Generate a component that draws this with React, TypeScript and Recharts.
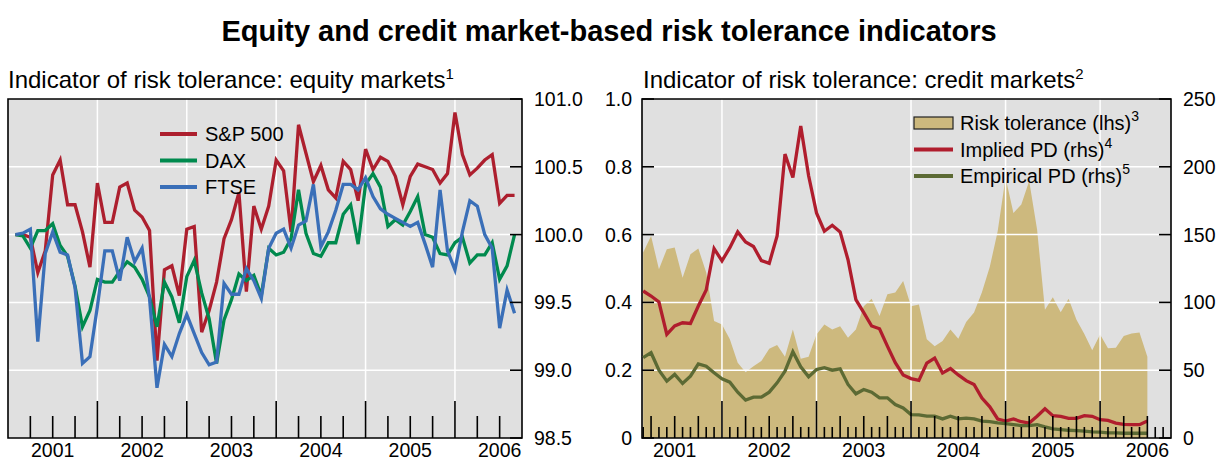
import React from 'react';
import {
  ComposedChart,
  Line,
  Area,
  XAxis,
  YAxis,
  CartesianGrid,
  ReferenceArea,
  Legend,
} from 'recharts';

const FONT = '"Liberation Sans", Arial, Helvetica, sans-serif';

// ---------- DATA ----------
// x = months since 1 Jan 2001 (month-end observations)
const equityMonths = Array.from({ length: 68 }, (_, i) => i + 1);
const sp500 = [
  100.0, 100.0, 99.98, 99.72, 99.88, 100.44, 100.55, 100.22, 100.22, 100.02,
  99.76, 100.38, 100.09, 100.09, 100.35, 100.38, 100.18, 100.13, 100.03, 99.07,
  99.74, 99.77, 99.55, 100.04, 100.06, 99.28, 99.44, 99.65, 99.97, 100.11,
  100.31, 99.58, 100.21, 100.04, 100.21, 100.55, 100.47, 100.02, 100.81, 100.6,
  100.39, 100.51, 100.33, 100.27, 100.54, 100.48, 100.25, 100.63, 100.48, 100.57,
  100.54, 100.43, 100.22, 100.43, 100.52, 100.5, 100.48, 100.38, 100.45, 100.9,
  100.59, 100.44, 100.49, 100.55, 100.59, 100.23, 100.29, 100.29,
];
const dax = [
  100.0, 99.99, 99.9, 100.03, 100.03, 100.08, 99.92, 99.84, 99.62, 99.32,
  99.44, 99.67, 99.65, 99.65, 99.73, 99.8, 99.76, 99.67, 99.54, 99.32,
  99.65, 99.54, 99.35, 99.69, 99.81, 99.57, 99.38, 99.05, 99.37, 99.52,
  99.71, 99.66, 99.7, 99.55, 99.9, 99.85, 99.87, 99.97, 100.33, 100.01,
  99.86, 99.84, 99.94, 99.94, 100.15, 100.22, 99.93, 100.37, 100.45, 100.35,
  100.06, 100.11, 100.07, 100.17, 100.28, 100.0, 99.98, 99.86, 99.85, 99.94,
  99.98, 99.79, 99.85, 99.85, 99.94, 99.67, 99.77, 100.0,
];
const ftse = [
  100.0, 100.01, 100.04, 99.21, 99.86, 100.02, 99.87, 99.85, 99.61, 99.05,
  99.1, 99.47, 99.88, 99.88, 99.66, 99.98, 99.8, 99.9, 99.53, 98.87,
  99.19, 99.1, 99.27, 99.41, 99.27, 99.13, 99.04, 99.06, 99.64, 99.56,
  99.56, 99.75, 99.66, 99.53, 99.9, 100.01, 100.04, 99.9, 100.07, 100.1,
  100.37, 99.91, 100.02, 100.18, 100.37, 100.37, 100.33, 100.42, 100.28, 100.19,
  100.15, 100.12, 100.09, 100.06, 100.09, 99.93, 99.76, 100.33, 99.88, 99.74,
  100.02, 100.25, 100.21, 100.0, 99.9, 99.31, 99.59, 99.42,
];

const creditMonths = Array.from({ length: 65 }, (_, i) => i + 2);
const riskTolerance = [
  0.547, 0.596, 0.498, 0.557, 0.562, 0.473, 0.542, 0.559, 0.488, 0.345,
  0.335, 0.291, 0.222, 0.194, 0.212, 0.227, 0.263, 0.274, 0.24, 0.32,
  0.234, 0.24, 0.305, 0.335, 0.32, 0.33, 0.296, 0.32, 0.389, 0.411,
  0.36, 0.424, 0.429, 0.463, 0.389, 0.394, 0.291, 0.271, 0.286, 0.32,
  0.293, 0.342, 0.37, 0.43, 0.505, 0.61, 0.768, 0.664, 0.689, 0.758,
  0.615, 0.378, 0.415, 0.371, 0.411, 0.349, 0.307, 0.259, 0.305, 0.265,
  0.266, 0.301, 0.308, 0.311, 0.24,
];
const impliedPD = [
  108.4, 104.7, 100.3, 76.4, 82.6, 85.0, 84.5, 97.3, 109.1, 139.7,
  130.6, 140.4, 152.0, 144.6, 141.2, 130.8, 128.8, 149.0, 209.4, 192.1,
  230.0, 193.4, 166.0, 152.5, 156.9, 152.0, 131.5, 102.0, 92.4, 82.6,
  80.6, 67.8, 55.5, 46.5, 43.8, 42.5, 55.3, 59.0, 48.0, 51.2,
  46.5, 42.3, 39.5, 29.4, 23.0, 14.0, 12.5, 14.0, 12.0, 11.0,
  16.0, 21.5, 16.5, 16.0, 14.5, 14.5, 16.5, 16.0, 13.5, 13.0,
  11.0, 10.0, 9.8, 9.8, 12.5,
];
const empiricalPD = [
  59.2, 62.9, 50.0, 41.9, 46.9, 40.2, 45.6, 54.7, 53.0, 48.1,
  43.6, 41.2, 33.8, 27.9, 30.1, 30.1, 33.8, 40.7, 49.3, 63.6,
  52.5, 45.1, 50.5, 51.8, 50.0, 51.0, 39.5, 32.6, 35.8, 33.8,
  29.6, 29.6, 24.7, 22.2, 17.3, 17.1, 16.1, 16.1, 14.1, 16.1,
  14.1, 14.6, 14.1, 12.4, 12.0, 11.1, 10.6, 9.9, 9.2, 9.2,
  9.9, 8.2, 6.7, 6.2, 5.7, 5.5, 5.0, 4.5, 4.3, 3.8,
  3.8, 3.5, 3.5, 3.5, 3.5,
];

const yearLabels = ['2001', '2002', '2003', '2004', '2005', '2006'];
const yearBoundaries = [12, 24, 36, 48, 60];
const equityTicks = [98.5, 99, 99.5, 100, 100.5, 101];
const equityTickLabels = ['98.5', '99.0', '99.5', '100.0', '100.5', '101.0'];
const lhsTicks = [0, 0.2, 0.4, 0.6, 0.8, 1];
const lhsTickLabels = ['0', '0.2', '0.4', '0.6', '0.8', '1.0'];
const rhsTicks = [0, 50, 100, 150, 200, 250];
const rhsTickLabels = ['0', '50', '100', '150', '200', '250'];
const quarterTicks = Array.from({ length: 22 }, (_, i) => 3 * (i + 1));
const monthTicks = Array.from({ length: 67 }, (_, i) => i + 2);

const equitySeries = [
  { key: 'sp', name: 'S&P 500', color: '#ad1f2e' },
  { key: 'dax', name: 'DAX', color: '#008a4e' },
  { key: 'ftse', name: 'FTSE', color: '#3a6fb8' },
];
const creditSeries = [
  { key: 'tol', name: 'Risk tolerance (lhs)', sup: '3', color: '#cdb97e', kind: 'area' },
  { key: 'impl', name: 'Implied PD (rhs)', sup: '4', color: '#b01d2d', kind: 'line' },
  { key: 'emp', name: 'Empirical PD (rhs)', sup: '5', color: '#5c6a34', kind: 'line' },
];

const equityData = equityMonths.map((m, i) => ({ m, sp: sp500[i], dax: dax[i], ftse: ftse[i] }));
const creditData = creditMonths.map((m, i) => ({
  m,
  tol: riskTolerance[i],
  impl: impliedPD[i],
  emp: empiricalPD[i],
}));

// ---------- STYLE ----------
const PLOT_BG = '#e0e0e0';
const TICK_FS = 19.5;
const LINE_W = 3.3;
const EQ_DOMAIN: [number, number] = [0, 69];
const CR_DOMAIN: [number, number] = [1.85, 69];

// ---------- TICKS ----------
const makeXTick = (lenFor: (v: number) => number, domainMax: number) => (props: any) => {
  const { x, y, payload } = props;
  const v = payload.value;
  const len = lenFor(v);
  const label = v % 12 === 6 ? yearLabels[(v - 6) / 12] : null;
  return (
    <g>
      {v < domainMax && (
        <line x1={x} x2={x} y1={y} y2={y - len} stroke="#000" strokeWidth={1.6} />
      )}
      {label && (
        <text x={x} y={y + 19} textAnchor="middle" fontSize={TICK_FS} fontFamily={FONT} fill="#000">
          {label}
        </text>
      )}
    </g>
  );
};

const makeYTick = (
  side: 'left' | 'right',
  ticks: number[],
  labels: string[] | null,
  labelGap: number
) => (props: any) => {
  const { x, y, payload } = props;
  const dir = side === 'left' ? 1 : -1;
  const idx = ticks.indexOf(payload.value);
  const label = labels && idx >= 0 ? labels[idx] : null;
  return (
    <g>
      <line x1={x} x2={x + dir * 12} y1={y} y2={y} stroke="#000" strokeWidth={1.6} />
      {label && (
        <text
          x={side === 'left' ? x - labelGap : x + labelGap}
          y={y}
          dy="0.36em"
          textAnchor={side === 'left' ? 'end' : 'start'}
          fontSize={TICK_FS}
          fontFamily={FONT}
          fill="#000"
        >
          {label}
        </text>
      )}
    </g>
  );
};

// ---------- LEGENDS ----------
const EquityLegend = () => (
  <svg width={150} height={90} style={{ display: 'block' }}>
    {equitySeries.map((s, i) => {
      const cy = 19 + i * 26.5;
      return (
        <g key={s.key}>
          <line x1={5} x2={42} y1={cy} y2={cy} stroke={s.color} strokeWidth={4} />
          <text x={50} y={cy} dy="0.36em" fontSize={20} fontFamily={FONT} fill="#000">
            {s.name}
          </text>
        </g>
      );
    })}
  </svg>
);

const CreditLegend = () => (
  <svg width={300} height={90} style={{ display: 'block' }}>
    {creditSeries.map((s, i) => {
      const cy = 18 + i * 26.5;
      return (
        <g key={s.key}>
          {s.kind === 'area' ? (
            <rect x={4} y={cy - 6} width={39} height={12} fill={s.color} stroke="#222" strokeWidth={1.2} />
          ) : (
            <line x1={4} x2={43} y1={cy} y2={cy} stroke={s.color} strokeWidth={4} />
          )}
          <text x={50} y={cy} dy="0.36em" fontSize={20} fontFamily={FONT} fill="#000">
            {s.name}
            <tspan dy={-9} fontSize={14}>
              {s.sup}
            </tspan>
          </text>
        </g>
      );
    })}
  </svg>
);

// ---------- CHARTS ----------
const EquityChart = () => (
  <ComposedChart
    width={609}
    height={460}
    data={equityData}
    margin={{ top: 99, right: 0, bottom: 0, left: 8 }}
  >
    <CartesianGrid
      yAxisId="R"
      fill={PLOT_BG}
      fillOpacity={1}
      stroke="#ffffff"
      strokeWidth={1.5}
      horizontalValues={[99, 99.5, 100, 100.5]}
      verticalValues={yearBoundaries}
    />
    <XAxis
      dataKey="m"
      type="number"
      domain={EQ_DOMAIN}
      allowDataOverflow
      ticks={quarterTicks}
      interval={0}
      height={22}
      tickSize={0}
      tickMargin={0}
      axisLine={false}
      tickLine={false}
      tick={makeXTick((v) => (v % 12 === 0 ? 37 : 22), EQ_DOMAIN[1])}
    />
    <YAxis
      yAxisId="L"
      orientation="left"
      width={0}
      type="number"
      domain={[98.5, 101]}
      allowDataOverflow
      ticks={equityTicks}
      interval={0}
      tickSize={0}
      tickMargin={0}
      axisLine={false}
      tickLine={false}
      tick={makeYTick('left', equityTicks, null, 0)}
    />
    <YAxis
      yAxisId="R"
      orientation="right"
      width={87}
      type="number"
      domain={[98.5, 101]}
      allowDataOverflow
      ticks={equityTicks}
      interval={0}
      tickSize={0}
      tickMargin={0}
      axisLine={false}
      tickLine={false}
      tick={makeYTick('right', equityTicks, equityTickLabels, 12)}
    />
    {equitySeries.map((s) => (
      <Line
        key={s.key}
        yAxisId="R"
        type="linear"
        dataKey={s.key}
        name={s.name}
        stroke={s.color}
        strokeWidth={LINE_W}
        dot={false}
        activeDot={false}
        isAnimationActive={false}
      />
    ))}
    <ReferenceArea
      yAxisId="R"
      x1={EQ_DOMAIN[0]}
      x2={EQ_DOMAIN[1]}
      y1={98.5}
      y2={101}
      fill="none"
      stroke="#000"
      strokeWidth={1.6}
      ifOverflow="visible"
    />
    <Legend
      layout="vertical"
      align="center"
      verticalAlign="middle"
      content={() => <EquityLegend />}
      wrapperStyle={{ left: 155, top: 115, width: 150, height: 90 }}
    />
  </ComposedChart>
);

const creditMargin = { top: 99, right: 0, bottom: 0, left: 0 };

const CreditBackChart = () => (
  <ComposedChart width={628} height={460} data={creditData} margin={creditMargin}>
    <CartesianGrid yAxisId="L" fill={PLOT_BG} fillOpacity={1} horizontal={false} vertical={false} />
    <XAxis
      dataKey="m"
      type="number"
      domain={CR_DOMAIN}
      allowDataOverflow
      ticks={monthTicks}
      height={22}
      tick={false}
      axisLine={false}
      tickLine={false}
    />
    <YAxis
      yAxisId="L"
      orientation="left"
      width={52}
      type="number"
      domain={[0, 1]}
      allowDataOverflow
      ticks={lhsTicks}
      tick={false}
      axisLine={false}
      tickLine={false}
    />
    <YAxis
      yAxisId="R"
      orientation="right"
      width={47}
      type="number"
      domain={[0, 250]}
      allowDataOverflow
      ticks={rhsTicks}
      tick={false}
      axisLine={false}
      tickLine={false}
    />
    <Area
      yAxisId="L"
      type="linear"
      dataKey="tol"
      name="Risk tolerance (lhs)"
      fill={creditSeries[0].color}
      fillOpacity={1}
      stroke="none"
      baseValue={0}
      dot={false}
      activeDot={false}
      isAnimationActive={false}
    />
  </ComposedChart>
);

const CreditFrontChart = () => (
  <ComposedChart width={628} height={460} data={creditData} margin={creditMargin}>
    <CartesianGrid
      yAxisId="L"
      fill="none"
      stroke="#ffffff"
      strokeWidth={1.5}
      horizontalValues={[0.2, 0.4, 0.6, 0.8]}
      verticalValues={yearBoundaries}
    />
    <XAxis
      dataKey="m"
      type="number"
      domain={CR_DOMAIN}
      allowDataOverflow
      ticks={monthTicks}
      interval={0}
      height={22}
      tickSize={0}
      tickMargin={0}
      axisLine={false}
      tickLine={false}
      tick={makeXTick((v) => (v % 12 === 0 ? 37 : v % 3 === 0 ? 22 : 11), CR_DOMAIN[1])}
    />
    <YAxis
      yAxisId="L"
      orientation="left"
      width={52}
      type="number"
      domain={[0, 1]}
      allowDataOverflow
      ticks={lhsTicks}
      interval={0}
      tickSize={0}
      tickMargin={0}
      axisLine={false}
      tickLine={false}
      tick={makeYTick('left', lhsTicks, lhsTickLabels, 10)}
    />
    <YAxis
      yAxisId="R"
      orientation="right"
      width={47}
      type="number"
      domain={[0, 250]}
      allowDataOverflow
      ticks={rhsTicks}
      interval={0}
      tickSize={0}
      tickMargin={0}
      axisLine={false}
      tickLine={false}
      tick={makeYTick('right', rhsTicks, rhsTickLabels, 12)}
    />
    {creditSeries
      .filter((s) => s.kind === 'line')
      .map((s) => (
        <Line
          key={s.key}
          yAxisId="R"
          type="linear"
          dataKey={s.key}
          name={s.name}
          stroke={s.color}
          strokeWidth={LINE_W}
          dot={false}
          activeDot={false}
          isAnimationActive={false}
        />
      ))}
    <ReferenceArea
      yAxisId="L"
      x1={CR_DOMAIN[0]}
      x2={CR_DOMAIN[1]}
      y1={0}
      y2={1}
      fill="none"
      stroke="#000"
      strokeWidth={1.6}
      ifOverflow="visible"
    />
    <Legend
      layout="vertical"
      align="center"
      verticalAlign="middle"
      content={() => <CreditLegend />}
      wrapperStyle={{ left: 320, top: 105, width: 300, height: 90 }}
    />
  </ComposedChart>
);

export default function App() {
  return (
    <div
      style={{
        position: 'absolute',
        left: 0,
        top: 0,
        width: 1218,
        height: 460,
        background: '#ffffff',
        overflow: 'hidden',
        fontFamily: FONT,
      }}
    >
      <svg width={1218} height={460} style={{ position: 'absolute', left: 0, top: 0 }}>
        <text x={609} y={41} textAnchor="middle" fontSize={29} fontWeight="bold" fontFamily={FONT} fill="#000">
          Equity and credit market-based risk tolerance indicators
        </text>
        <text x={8} y={88} fontSize={24} fontFamily={FONT} fill="#000">
          Indicator of risk tolerance: equity markets
          <tspan dy={-9} fontSize={15}>
            1
          </tspan>
        </text>
        <text x={643} y={88} fontSize={24} fontFamily={FONT} fill="#000">
          Indicator of risk tolerance: credit markets
          <tspan dy={-9} fontSize={15}>
            2
          </tspan>
        </text>
      </svg>
      <div style={{ position: 'absolute', left: 0, top: 0 }}>
        <EquityChart />
      </div>
      <div style={{ position: 'absolute', left: 590, top: 0 }}>
        <CreditBackChart />
      </div>
      <div style={{ position: 'absolute', left: 590, top: 0 }}>
        <CreditFrontChart />
      </div>
    </div>
  );
}
